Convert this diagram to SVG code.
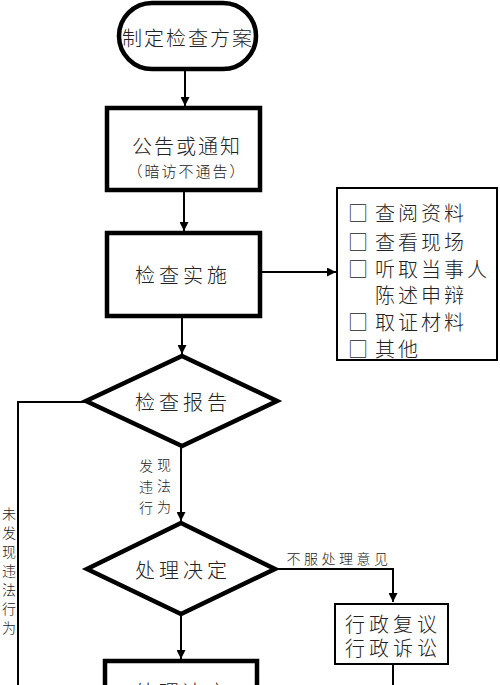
<svg xmlns="http://www.w3.org/2000/svg" width="500" height="685" viewBox="0 0 500 685">
<style>
.thick{fill:#fff;stroke:#000;stroke-width:4.5}
.thin{fill:#fff;stroke:#000;stroke-width:2}
.ln{fill:none;stroke:#000;stroke-width:2}
text{font-family:"Noto Sans CJK SC","Noto Sans",sans-serif;fill:#222;font-weight:300}
.big{font-size:20px;letter-spacing:2px;text-anchor:middle;dominant-baseline:central}
.dia{font-size:20px;letter-spacing:4px;text-anchor:middle;dominant-baseline:central}
.sm{font-size:15px;letter-spacing:2px;text-anchor:middle;dominant-baseline:central}
.lst{font-size:20px;letter-spacing:3px;dominant-baseline:central}
.lab{font-size:14px;text-anchor:middle;dominant-baseline:central}
</style>
<defs>
<marker id="ah" viewBox="0 0 10 10" refX="10" refY="5" markerWidth="9" markerHeight="9" markerUnits="userSpaceOnUse" orient="auto">
<path d="M0,0 L10,5 L0,10 z" fill="#000"/>
</marker>
</defs>
<g id="connectors">
<line class="ln" x1="185" y1="70" x2="185" y2="106" marker-end="url(#ah)"/>
<line class="ln" x1="184" y1="190" x2="184" y2="231" marker-end="url(#ah)"/>
<line class="ln" x1="260" y1="272" x2="336" y2="272" marker-end="url(#ah)"/>
<line class="ln" x1="182" y1="316" x2="182" y2="354" marker-end="url(#ah)"/>
<polyline class="ln" points="86,402 18,402 18,685"/>
<line class="ln" x1="181" y1="447" x2="181" y2="521" marker-end="url(#ah)"/>
<polyline class="ln" points="275,569 393,569 393,602" marker-end="url(#ah)"/>
<line class="ln" x1="181" y1="614" x2="181" y2="659" marker-end="url(#ah)"/>
<line class="ln" x1="393" y1="664" x2="393" y2="685"/>
<text class="lab" x="146" y="465">发</text>
<text class="lab" x="164" y="464">现</text>
<text class="lab" x="146" y="486">违</text>
<text class="lab" x="164" y="485">法</text>
<text class="lab" x="146" y="507">行</text>
<text class="lab" x="164" y="506">为</text>
<text class="lab"><tspan x="9" y="513">未</tspan><tspan x="9" y="532">发</tspan><tspan x="9" y="551">现</tspan><tspan x="9" y="570">违</tspan><tspan x="9" y="589">法</tspan><tspan x="9" y="608">行</tspan><tspan x="9" y="627">为</tspan></text>
<text class="lab" x="339" y="558" letter-spacing="3.5">不服处理意见</text>
</g>
<g id="n1">
<rect class="thick" x="119" y="3" width="137" height="66" rx="33"/>
<text class="big" x="188" y="37" font-size="19" letter-spacing="1.5">制定检查方案</text>
</g>
<g id="n2">
<rect class="thick" x="107" y="108" width="153" height="82"/>
<text class="big" x="187" y="145">公告或通知</text>
<text class="sm" x="187" y="170">（暗访不通告）</text>
</g>
<g id="n3">
<rect class="thick" x="107" y="233" width="153" height="83"/>
<text class="dia" x="183" y="274">检查实施</text>
</g>
<g id="n4">
<rect class="thin" x="337" y="188" width="160" height="172"/>
<text class="lst" x="348" y="212">□</text>
<text class="lst" x="375" y="212">查阅资料</text>
<text class="lst" x="348" y="241">□</text>
<text class="lst" x="375" y="241">查看现场</text>
<text class="lst" x="348" y="268">□</text>
<text class="lst" x="375" y="268">听取当事人</text>
<text class="lst" x="375" y="294">陈述申辩</text>
<text class="lst" x="348" y="321">□</text>
<text class="lst" x="375" y="321">取证材料</text>
<text class="lst" x="348" y="348">□</text>
<text class="lst" x="375" y="348">其他</text>
</g>
<g id="n5">
<polygon class="thick" points="182,356 277,401 182,446 86,401"/>
<text class="dia" x="183" y="401">检查报告</text>
</g>
<g id="n6">
<polygon class="thick" points="181,523 275,569 181,614 87,569"/>
<text class="dia" x="183" y="569">处理决定</text>
</g>
<g id="n7">
<rect class="thin" x="335" y="604" width="113" height="60"/>
<text class="dia" x="393" y="623" letter-spacing="3">行政复议</text>
<text class="dia" x="393" y="647" letter-spacing="3">行政诉讼</text>
</g>
<g id="n8">
<rect class="thick" x="105" y="661" width="152" height="60"/>
<text class="dia" x="183" y="691">处理决定</text>
</g>
</svg>
